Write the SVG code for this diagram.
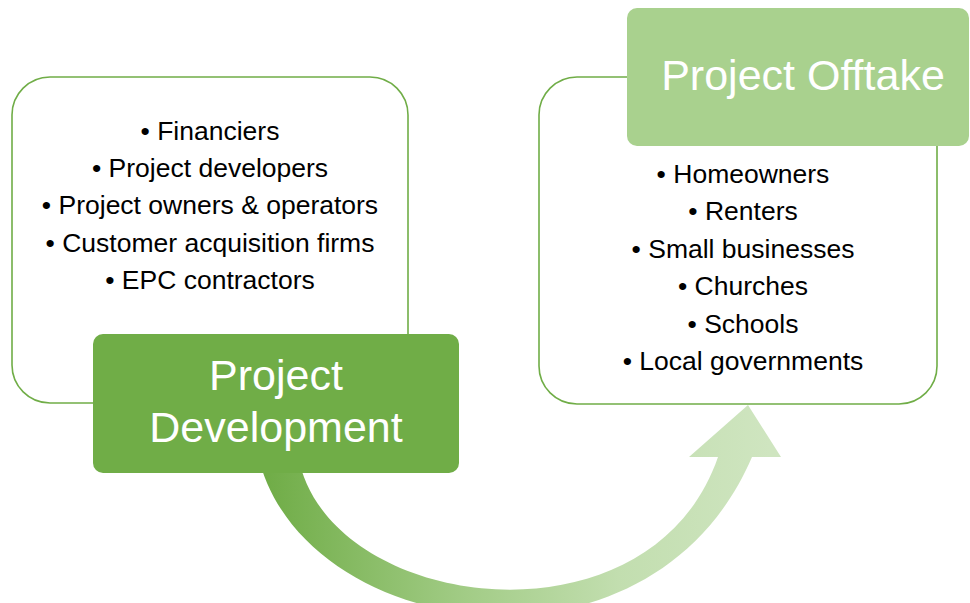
<svg xmlns="http://www.w3.org/2000/svg" width="970" height="603" viewBox="0 0 970 603">
  <style>
    .outline { fill: #ffffff; stroke: #70AD47; stroke-width: 1.6; }
    .bul { font-family: "Liberation Sans", Arial, sans-serif; font-size: 26.5px; fill: #000000; text-anchor: middle; }
    .title { font-family: "Liberation Sans", Arial, sans-serif; font-size: 43px; fill: #ffffff; text-anchor: middle; }
  </style>
  <defs>
    <linearGradient id="arrowGrad" gradientUnits="userSpaceOnUse" x1="263" y1="0" x2="770" y2="0">
      <stop offset="0" stop-color="#6FAC46"/>
      <stop offset="0.4" stop-color="#A2CC86"/>
      <stop offset="0.7" stop-color="#C2DEAF"/>
      <stop offset="1" stop-color="#CFE5C0"/>
    </linearGradient>
  </defs>
  <rect width="970" height="603" fill="#ffffff"/>

  <g id="dev-panel">
    <rect class="outline" x="12" y="77" width="396" height="326" rx="38"/>
    <text class="bul" x="210" y="140">• Financiers</text>
    <text class="bul" x="210" y="177">• Project developers</text>
    <text class="bul" x="210" y="214">• Project owners &amp; operators</text>
    <text class="bul" x="210" y="252">• Customer acquisition firms</text>
    <text class="bul" x="210" y="289">• EPC contractors</text>
  </g>

  <g id="offtake-panel">
    <rect class="outline" x="539" y="77" width="398" height="327" rx="38"/>
    <text class="bul" x="743" y="183">• Homeowners</text>
    <text class="bul" x="743" y="220">• Renters</text>
    <text class="bul" x="743" y="258">• Small businesses</text>
    <text class="bul" x="743" y="295">• Churches</text>
    <text class="bul" x="743" y="333">• Schools</text>
    <text class="bul" x="743" y="370">• Local governments</text>
  </g>

  <g id="connectors">
    <path d="M 258 455 C 300 640, 650 695, 752 457 L 781 457 L 748 405 L 689 457 L 718 457 C 650 655, 325 612, 298 455 Z" fill="url(#arrowGrad)"/>
  </g>

  <g id="dev-title">
    <rect x="93" y="334" width="366" height="139" rx="10" fill="#70AD47"/>
    <text class="title" x="276" y="390">Project</text>
    <text class="title" x="276" y="442">Development</text>
  </g>

  <g id="offtake-title">
    <rect x="627" y="8" width="342" height="138" rx="10" fill="#A9D18E"/>
    <text class="title" x="803" y="90">Project Offtake</text>
  </g>
</svg>
